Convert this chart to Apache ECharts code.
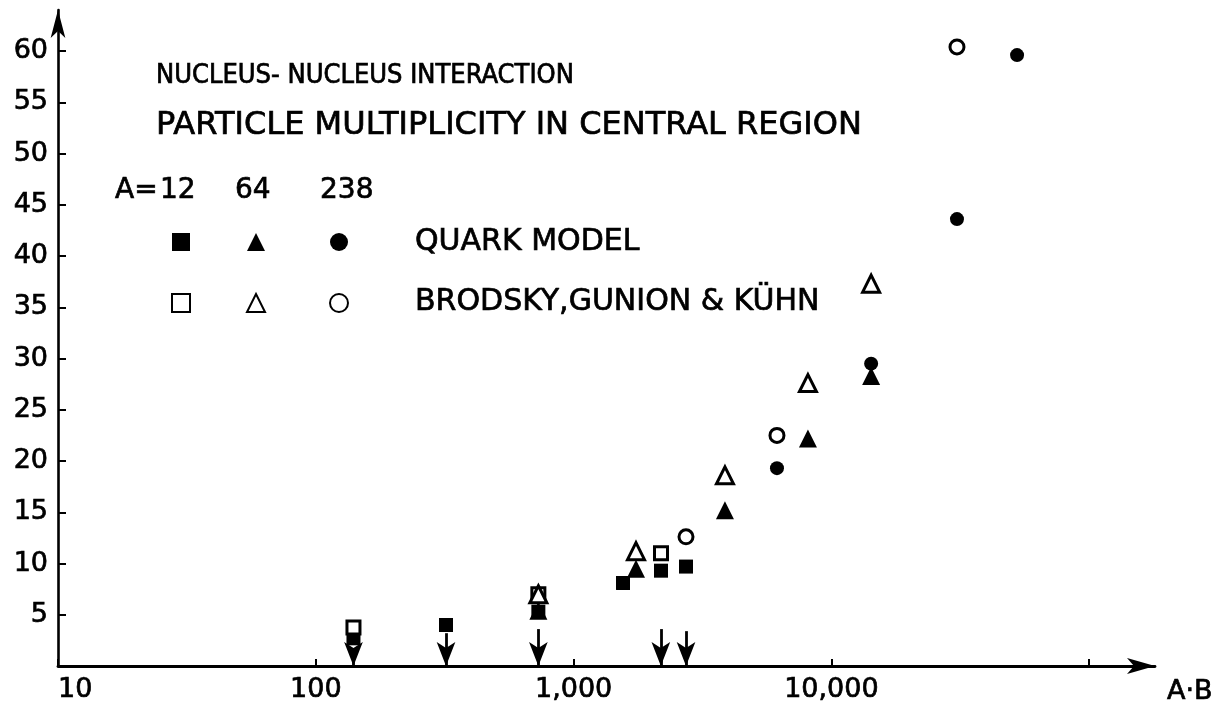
<!DOCTYPE html>
<html>
<head>
<meta charset="utf-8">
<script src="https://cdn.jsdelivr.net/npm/echarts@6/dist/echarts.min.js"></script>
<style>
  html, body { margin: 0; padding: 0; background: #fff; }
  #chart { width: 1218px; height: 704px; }
</style>
</head>
<body>
<div id="chart"></div>
<script>
// Central-region multiplicity versus A·B, quark model and Brodsky–Gunion–Kühn
// Each series: [A·B, multiplicity]
const quarkA12 = [[140, 2.7], [320, 4.0], [730, 5.3], [1555, 8.1], [2183, 9.3], [2729, 9.7]];
const quarkA64 = [[730, 5.4], [1746, 9.5], [3865, 15.2], [8110, 22.2], [14260, 28.3]];
const quarkA238 = [[6150, 19.3], [14260, 29.5], [30700, 43.6], [52500, 59.6]];
const bgkA12 = [[140, 3.75], [730, 7.0], [2183, 11.0]];
const bgkA64 = [[730, 7.0], [1746, 11.2], [3865, 18.6], [8110, 27.6], [14260, 37.3]];
const bgkA238 = [[2729, 12.6], [6150, 22.5], [30700, 60.4]];

// Arrows marking the measured A·B combinations: [A·B, arrow top]
const arrowX = [140, 320, 730, 2180, 2730];
const arrowTop = [1.6, 3.2, 3.6, 3.6, 3.4];

const xTickValues = [10, 100, 1000, 10000, 100000];
const xLabelValues = [10, 100, 1000, 10000];
const yTickValues = [5, 10, 15, 20, 25, 30, 35, 40, 45, 50, 55, 60];

const INK = '#000';
const FONT = 'DejaVu Sans';
const FONT_NARROW = "'DejaVu Sans Condensed', 'Liberation Sans Narrow', 'DejaVu Sans'";
// pen-like stroke weight for all lettering
const PEN = { textBorderColor: INK, textBorderWidth: 0.7 };

const withCommas = v => String(v).replace(/\B(?=(\d{3})+(?!\d))/g, ',');

const filled = { color: INK, borderWidth: 0, opacity: 1 };
const open = { color: '#fff', borderColor: INK, borderWidth: 3, opacity: 1 };

function scatter(name, data, symbol, size, style, z) {
  return {
    name, type: 'scatter', data, symbol, symbolSize: size,
    itemStyle: style, z: z, silent: true, emphasis: { disabled: true }
  };
}

const arrowLines = arrowX.map((x, i) => [{ coord: [x, arrowTop[i]] }, { coord: [x, 0] }]);

const series = [
  scatter('q12', quarkA12, 'rect', 14, filled, 3),
  scatter('q64', quarkA64, 'triangle', 18, filled, 3),
  scatter('q238', quarkA238, 'circle', 14, filled, 3),
  scatter('b12', bgkA12, 'rect', 13, open, 4),
  scatter('b64', bgkA64, 'triangle', 17, open, 5),
  scatter('b238', bgkA238, 'circle', 14, open, 4),
  {
    name: 'arrows', type: 'scatter', data: [], silent: true,
    markLine: {
      silent: true, animation: false,
      symbol: ['none', 'arrow'], symbolSize: [14, 24],
      label: { show: false },
      lineStyle: { color: INK, width: 2.8, type: 'solid', opacity: 1 },
      emphasis: { disabled: true },
      data: arrowLines
    }
  }
];

function legendColumn(left, names) {
  return {
    left, top: 228, orient: 'vertical', itemWidth: 18, itemHeight: 18,
    itemGap: 42, selectedMode: false, formatter: () => '',
    textStyle: { fontSize: 10 }, data: names.map(n => ({ name: n }))
  };
}

function label(text, left, top, size, family) {
  return {
    text, left, top,
    textStyle: Object.assign({ fontFamily: family || FONT, fontSize: size, fontWeight: 'normal', color: INK }, PEN)
  };
}

const axisText = Object.assign({ fontFamily: FONT, fontSize: 27, color: INK }, PEN);

const option = {
  animation: false,
  backgroundColor: '#fff',
  textStyle: { fontFamily: FONT, color: INK },
  title: [
    label('NUCLEUS- NUCLEUS INTERACTION', 151, 57, 27, FONT_NARROW),
    label('PARTICLE MULTIPLICITY IN CENTRAL REGION', 151, 105, 32),
    label('A=', 110, 172, 28),
    label('12', 155, 172, 28),
    label('64', 230, 172, 28),
    label('238', 315, 172, 28),
    label('QUARK MODEL', 410, 222, 30),
    label('BRODSKY,GUNION & KÜHN', 410, 282, 30)
  ],
  legend: [
    legendColumn(166, ['q12', 'b12']),
    legendColumn(241, ['q64', 'b64']),
    legendColumn(324, ['q238', 'b238'])
  ],
  grid: { left: 58, right: 63, top: 10, bottom: 38, containLabel: false, outerBoundsMode: 'none' },
  xAxis: {
    type: 'log', logBase: 10, min: 10, max: 180000,
    name: 'A·B', nameLocation: 'end', nameGap: 12,
    nameTextStyle: Object.assign({ verticalAlign: 'top', padding: [12, 0, 0, 0] }, axisText),
    axisLine: { show: true, symbol: ['none', 'arrow'], symbolSize: [12, 28], lineStyle: { color: INK, width: 2.8 } },
    axisTick: { show: true, inside: true, length: 7, customValues: xTickValues, lineStyle: { color: INK, width: 2 } },
    axisLabel: Object.assign({
      customValues: xLabelValues, margin: 10, alignMinLabel: 'left',
      formatter: v => withCommas(v)
    }, axisText),
    splitLine: { show: false }, minorTick: { show: false }
  },
  yAxis: {
    type: 'value', min: 0, max: 64,
    axisLine: { show: true, symbol: ['none', 'arrow'], symbolSize: [11, 28], lineStyle: { color: INK, width: 2.6 } },
    axisTick: { show: true, inside: true, length: 8, customValues: yTickValues, lineStyle: { color: INK, width: 2 } },
    axisLabel: Object.assign({ customValues: yTickValues, margin: 10 }, axisText),
    splitLine: { show: false }
  },
  series
};

const chart = echarts.init(document.getElementById('chart'), null, { renderer: 'canvas' });
chart.setOption(option);
</script>
</body>
</html>
